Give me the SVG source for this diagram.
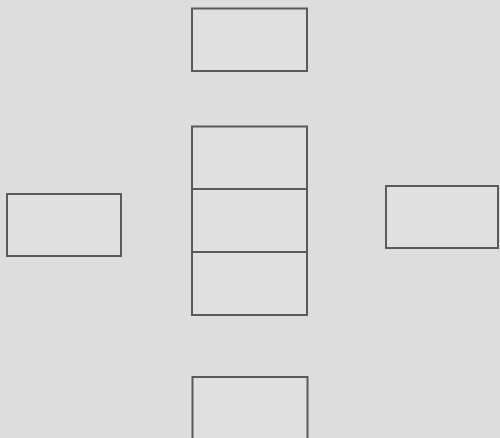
<svg xmlns="http://www.w3.org/2000/svg" width="500" height="438" viewBox="0 0 500 438">
<style>
.box{fill:#e0e0e0;stroke:#5a5a5a;stroke-width:2}
</style>
<rect x="0" y="0" width="500" height="438" fill="#dddddd"/>
<g id="top"><rect class="box" x="192" y="8.5" width="115" height="62.5"/></g>
<g id="stack1"><rect class="box" x="192" y="126.5" width="115" height="62.5"/></g>
<g id="stack2"><rect class="box" x="192" y="189" width="115" height="63"/></g>
<g id="stack3"><rect class="box" x="192" y="252" width="115" height="63"/></g>
<g id="left"><rect class="box" x="7" y="194" width="114" height="62"/></g>
<g id="right"><rect class="box" x="386" y="186" width="112" height="62"/></g>
<g id="bottom"><rect class="box" x="192.5" y="377" width="115" height="70"/></g>
<g id="connectors"></g>
</svg>
